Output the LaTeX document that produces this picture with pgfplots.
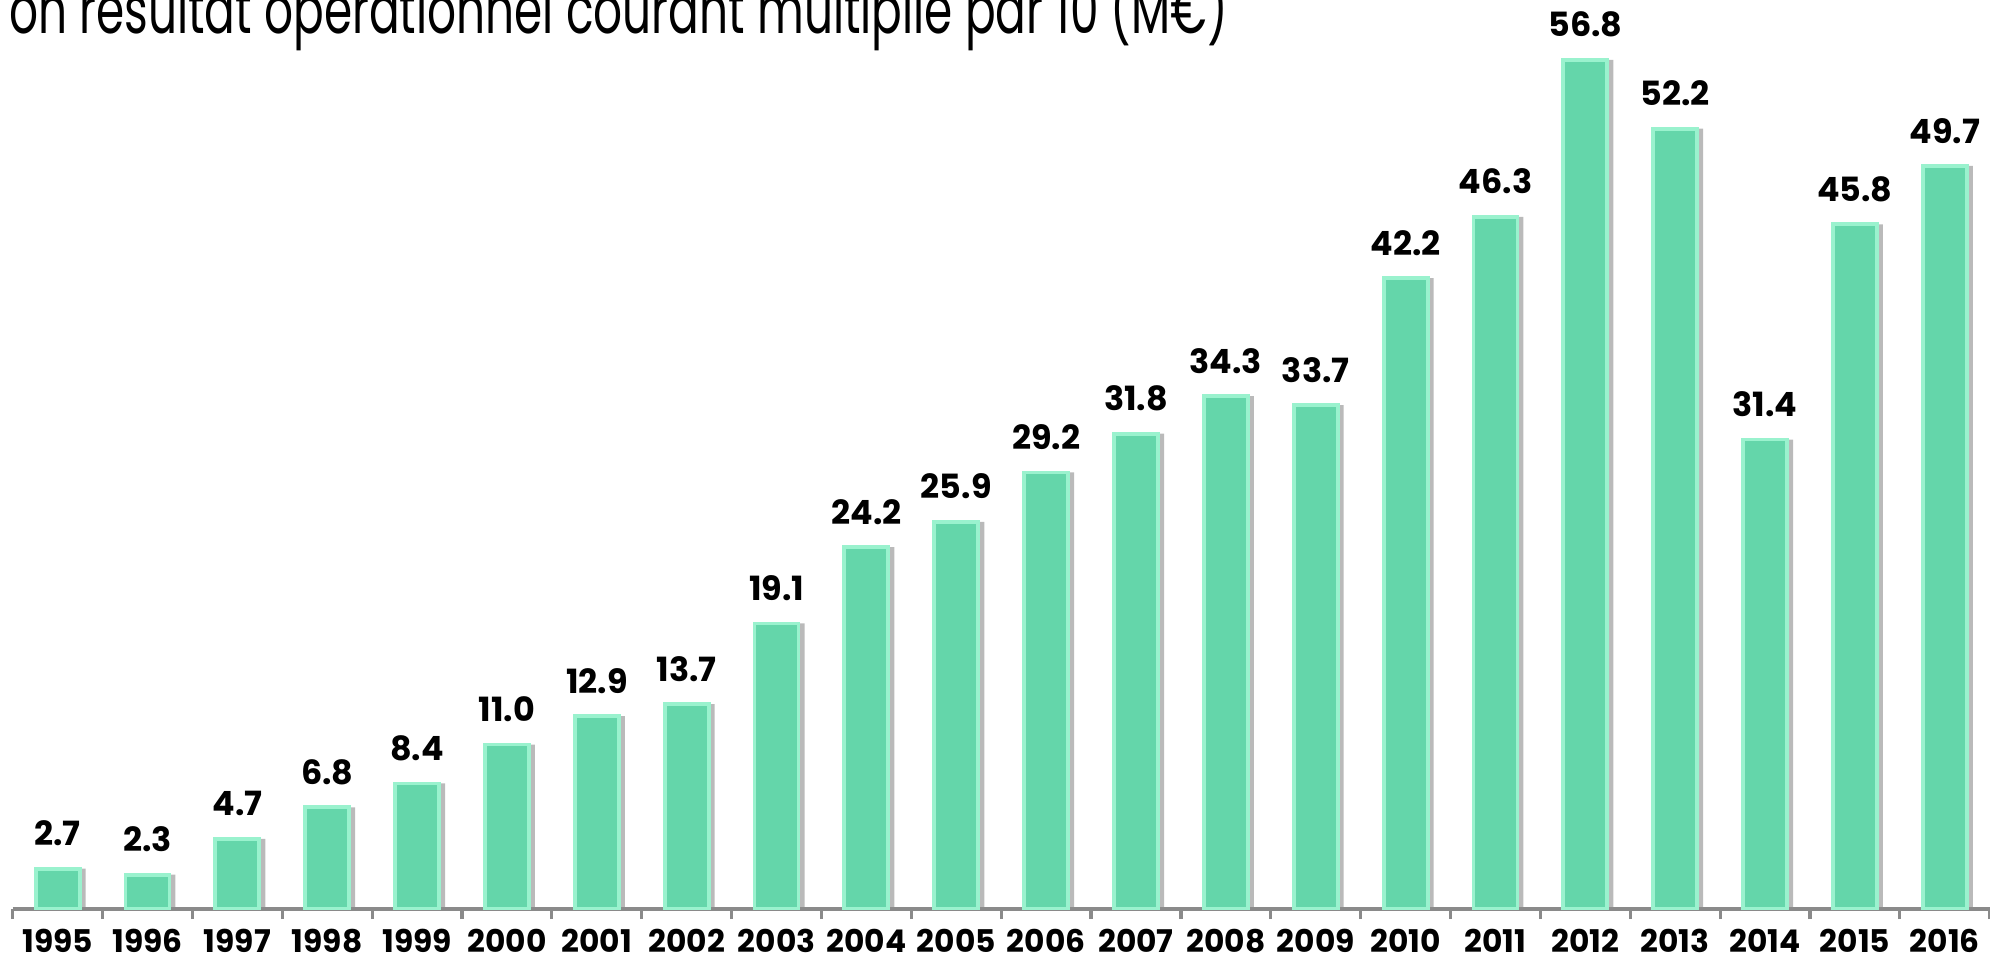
\documentclass[border=0pt]{standalone}
\usepackage{fontspec}
\setmainfont{Poppins}
\usepackage{pgfplots}
\usepackage{pgfplotstable}
\pgfplotsset{compat=1.18}
\definecolor{mint}{HTML}{64D6AA}
\definecolor{mintlight}{HTML}{9AF2CE}
\definecolor{axisgray}{HTML}{8A8A8A}

\pgfplotstableread{
idx val
0 2.7
1 2.3
2 4.7
3 6.8
4 8.4
5 11.0
6 12.9
7 13.7
8 19.1
9 24.2
10 25.9
11 29.2
12 31.8
13 34.3
14 33.7
15 42.2
16 46.3
17 56.8
18 52.2
19 31.4
20 45.8
21 49.7
}\ebitda

\begin{document}
\begin{tikzpicture}
\useasboundingbox (-1.27mm,-5.1mm) rectangle (197.73mm,90.9mm);
\clip (-1.27mm,-5.1mm) rectangle (197.73mm,90.9mm);
\begin{axis}[
    scale only axis,
    width=197.7mm, height=90.9mm,
    at={(0,0)}, anchor=south west,
    ybar,
    bar width=4.4mm,
    xmin=-0.5, xmax=21.5,
    ymin=0, ymax=60.8,
    axis x line=bottom,
    axis y line=none,
    axis line style={axisgray, line width=0.9pt, -},
    xtick={0,...,21},
    xticklabels={1995,1996,1997,1998,1999,2000,2001,2002,2003,2004,2005,2006,2007,2008,2009,2010,2011,2012,2013,2014,2015,2016},
    major tick length=0pt,
    minor xtick={-0.5,0.5,...,21.5},
    minor tick length=1mm,
    tick align=outside,
    minor tick style={axisgray, line width=0.9pt},
    xticklabel style={font=\fontsize{8.9}{11}\selectfont\bfseries, yshift=-0.8mm},
    /pgf/number format/assume math mode=true,
    /pgf/number format/fixed,
    /pgf/number format/fixed zerofill,
    /pgf/number format/precision=1,
    nodes near coords,
    nodes near coords style={font=\fontsize{9.5}{11}\selectfont\bfseries, yshift=0.9mm},
]
\addplot[bar shift=0.6mm, fill=black!45, draw=none, opacity=0.6, nodes near coords=\empty] table[x=idx, y=val] {\ebitda};
\addplot[bar shift=0pt, fill=mint, draw=mintlight, line width=1.1pt] table[x=idx, y=val] {\ebitda};
\end{axis}
\node[anchor=base west, inner sep=0pt, font=\fontsize{19}{22}\selectfont, xscale=0.68] at (-0.4mm, 87.6mm) {on résultat opérationnel courant multiplié par 10 (M€)};
\end{tikzpicture}
\end{document}
